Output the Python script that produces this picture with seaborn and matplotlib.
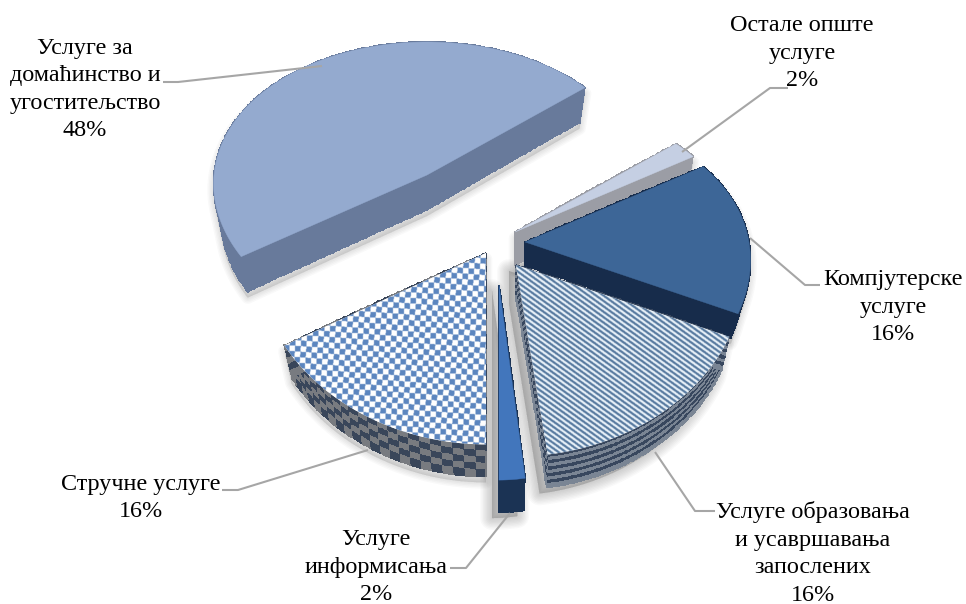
import numpy as np
import matplotlib
matplotlib.use("Agg")
import matplotlib.pyplot as plt
from matplotlib.colors import ListedColormap
from matplotlib.patches import Polygon
import seaborn as sns

# --- data ---
categories = ["Услуге за\nдомаћинство и\nугоститељство", "Остале опште\nуслуге",
              "Компјутерске\nуслуге", "Услуге образовања\nи усавршавања\nзапослених",
              "Услуге\nинформисања", "Стручне услуге"]
values = [48, 2, 16, 16, 2, 16]

# --- layout / style ---
W, H = 966, 604
START = 237.6            # clockwise from the far side of the pie, degrees
apex_xy = [(427, 175), (515, 232), (525, 242), (516, 265), (499, 285), (486, 253)]
depths = [35, 33, 24, 33, 32, 32]
proj = [(213, .06, 145, .09)] + [(224, .115, 155, .19)] * 3 + [(185, .115, 158, .19), (224, .115, 155, .19)]  # R, q, T, p
KX = .035
order = [0, 1, 2, 5, 3, 4]
shadow_dx = [0, 0, 0, -7, -7, 0]
shadow_lw = [11, 11, 11, 18, 18, 11]
top_col = ["#94AACF", "#C5CFE3", "#3D6697", None, "#4276BC", None]
wall_col = ["#687A9B", "#9B9DA5", "#172C4B", None, "#1B3354", None]
label_xy = [(85, 89.5), (802, 53), (893, 307), (813, 553.5), (376, 567), (141, 498)]
leaders = [[(163, 82), (178, 82), (322, 66)], [(788, 88), (770, 88), (682, 152)],
           [(820, 285), (805, 285), (750, 238)], [(715, 511), (695, 511), (655, 452)],
           [(450, 568), (466, 568), (510, 513)], [(222, 490), (238, 490), (368, 450)]]

sns.set_theme(style="white")
plt.rcParams["font.family"] = ["Liberation Serif", "DejaVu Serif"]
grey = sns.color_palette(["#A6A6A6"])[0]

fig = plt.figure(figsize=(W / 100, H / 100), dpi=100, facecolor="white")
ax = fig.add_axes([0, 0, 1, 1])


def pt(i, theta, r=1.0, s=0.0):
    R, q, T, p = proj[i]
    t = np.radians(theta)
    u, v = r * np.sin(t), r * np.cos(t)
    x = R * u / (1 + q * v) * (1 - KX * s)
    y = -T * v / (1 + p * v) + depths[i] * s
    return apex_xy[i][0] + x, apex_xy[i][1] + y


spans = []
a = START
for val in values:
    spans.append((a, a + val * 3.6))
    a += val * 3.6


def outline(i, s=0.0):
    a0, a1 = spans[i]
    th = np.linspace(a0, a1, 160)
    x, y = pt(i, th, 1.0, s)
    ax0, ay0 = pt(i, 0.0, 0.0, s)
    return np.column_stack([np.r_[ax0, x], np.r_[ay0, y]])


def hull(points):
    pts = sorted(map(tuple, points))
    def half(seq):
        out = []
        for c in seq:
            while len(out) > 1 and ((out[-1][0] - out[-2][0]) * (c[1] - out[-2][1])
                                    - (out[-1][1] - out[-2][1]) * (c[0] - out[-2][0])) <= 0:
                out.pop()
            out.append(c)
        return out[:-1]
    return np.array(half(pts) + half(pts[::-1]))


def mesh(X, Y, C, colors, z):
    ax.pcolormesh(X, Y, C, cmap=ListedColormap(colors), vmin=0, vmax=len(colors) - 1,
                  shading="flat", edgecolors="face", linewidth=0.2, zorder=z)


def texture(kind, poly, z):
    x0, y0 = np.floor(poly.min(axis=0))
    x1, y1 = np.ceil(poly.max(axis=0))
    xs = np.arange(x0, x1, .5)
    ys = np.arange(y0, y1, .5)
    Xg, Yg = np.meshgrid(xs, ys)
    if kind == "checker":
        Z = (np.floor((Xg + .07 * Yg) / 5.6) + np.floor((Yg - .07 * Xg) / 5.6)) % 2
        cm = ListedColormap(["#FFFFFF", "#5C86BF"])
    else:
        Z = (((Yg - .72 * Xg) / 5.4) % 1 < .5).astype(float)
        cm = ListedColormap(["#EAF2F9", "#56799F"])
    im = ax.imshow(Z, extent=(x0, x1, y1, y0), cmap=cm, vmin=0, vmax=1, aspect="auto",
                   interpolation="bilinear", zorder=z)
    im.set_clip_path(Polygon(poly, closed=True, transform=ax.transData))


# soft shadows under every slice
for i in range(len(values)):
    h = hull(np.vstack([outline(i), outline(i, 1.0)])) + np.array([shadow_dx[i], 6])
    for lw in range(1, shadow_lw[i], 2):
        ax.add_patch(Polygon(h, closed=True, fc="#555555", ec="#555555", lw=lw, alpha=.035,
                             joinstyle="round", zorder=1))

for lvl, i in enumerate(order):
    z_wall, z_top = 2 + 2 * lvl, 3 + 2 * lvl
    a0, a1 = spans[i]
    n_s = {3: 10, 5: 5}.get(i, 1)
    ss = np.linspace(0, 1, n_s + 1)
    # outer wall
    th = np.linspace(a0, a1, 133 if i != 0 else 241)
    TH, SS = np.meshgrid(th, ss)
    X, Y = pt(i, TH, 1.0, SS)
    row = np.arange(n_s)[:, None] * np.ones((1, len(th) - 1))
    col = np.ones((n_s, 1)) * (np.arange(len(th) - 1)[None, :] // 6)
    # cut faces
    rr = np.linspace(0, 1, 61)
    faces = []
    for edge in (a0, a1):
        RR, S2 = np.meshgrid(rr, ss)
        Xf, Yf = pt(i, edge, RR, S2)
        faces.append((Xf, Yf, np.arange(n_s)[:, None] * np.ones((1, 60)),
                      np.ones((n_s, 1)) * (np.arange(60)[None, :] // 5)))
    if i == 3:
        mesh(X, Y, row % 2, ["#38475E", "#7A8594"], z_wall)
        for Xf, Yf, r_, c_ in faces:
            mesh(Xf, Yf, r_ % 2, ["#38475E", "#7A8594"], z_wall)
    elif i == 5:
        mesh(X, Y, (row + col) % 2, ["#39465A", "#787B80"], z_wall)
        for Xf, Yf, r_, c_ in faces:
            mesh(Xf, Yf, (r_ + c_) % 2, ["#39465A", "#787B80"], z_wall)
    else:
        mesh(X, Y, np.zeros_like(row), [wall_col[i], wall_col[i]], z_wall)
        for Xf, Yf, r_, c_ in faces:
            mesh(Xf, Yf, np.zeros_like(r_), [wall_col[i], wall_col[i]], z_wall)
    # top face
    poly = outline(i)
    if i == 3:
        ax.add_patch(Polygon(poly, closed=True, fc="white", ec="none", zorder=z_top))
        texture("stripes", poly, z_top)
    elif i == 5:
        ax.add_patch(Polygon(poly, closed=True, fc="white", ec="none", zorder=z_top))
        texture("checker", poly, z_top)
    else:
        ax.add_patch(Polygon(poly, closed=True, fc=top_col[i], ec=top_col[i], lw=.3, zorder=z_top))

for path in leaders:
    xs, ys = zip(*path)
    ax.plot(xs, ys, color=grey, lw=1.5, zorder=40, solid_capstyle="butt")

for name, val, (x, y) in zip(categories, values, label_xy):
    ax.text(x, y, f"{name}\n{val}%", ha="center", va="center", fontsize=17.4,
            linespacing=1.41, color="black", zorder=50)

ax.set_xlim(0, W)
ax.set_ylim(H, 0)
ax.axis("off")
fig.savefig("out.png", dpi=100, facecolor="white")
